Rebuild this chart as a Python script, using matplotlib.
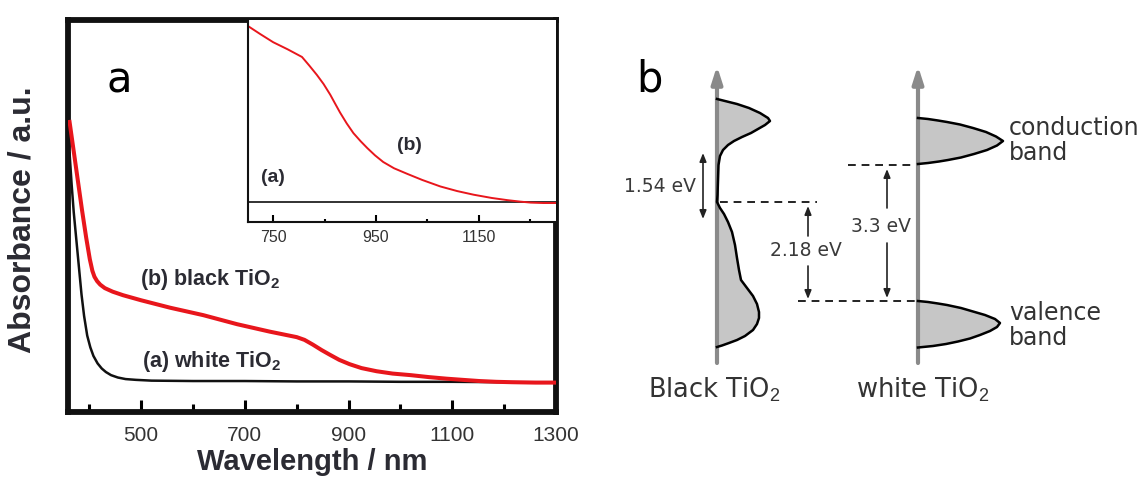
import numpy as np
import matplotlib
matplotlib.use("Agg")
from matplotlib import pyplot as plt

plt.rcParams['mathtext.fontset'] = 'custom'
plt.rcParams['mathtext.rm'] = 'Liberation Sans'
plt.rcParams['mathtext.bf'] = 'Liberation Sans:bold'

# ---- panel a: absorbance spectra (arbitrary units) ----
white_wl = [362, 366, 370, 375, 380, 385, 390, 396, 402, 408, 416, 424, 432, 442,
            455, 470, 490, 520, 600, 700, 800, 900, 1000, 1100, 1200, 1300]
white_abs = [0.66, 0.58, 0.51, 0.44, 0.37, 0.30, 0.245, 0.195, 0.165, 0.143, 0.124,
             0.111, 0.102, 0.094, 0.088, 0.084, 0.082, 0.080, 0.079, 0.079, 0.078,
             0.078, 0.077, 0.077, 0.076, 0.076]

black_wl = [362, 370, 378, 386, 394, 401, 406, 410, 415, 421, 430, 445, 465, 500,
            556, 620, 685, 748, 800, 815, 831, 848, 864, 882, 902, 925, 954, 985,
            1020, 1055, 1089, 1120, 1152, 1185, 1215, 1260, 1300]
black_abs = [0.74, 0.665, 0.59, 0.515, 0.445, 0.39, 0.36, 0.345, 0.334, 0.325, 0.316,
             0.307, 0.298, 0.285, 0.266, 0.247, 0.224, 0.205, 0.191, 0.184, 0.172,
             0.158, 0.146, 0.133, 0.122, 0.112, 0.104, 0.098, 0.094, 0.089, 0.085,
             0.082, 0.079, 0.077, 0.076, 0.075, 0.075]

# inset (zoom of 700-1300 nm)
inset_black_wl = [700, 800, 900, 1000, 1100, 1200, 1300]
inset_black_abs = [0.10, 0.10, 0.10, 0.10, 0.10, 0.10, 0.10]
inset_red_wl = [701, 725, 750, 778, 806, 820, 835, 848, 861, 870, 880, 893, 906, 920,
                933, 948, 964, 985, 1011, 1040, 1075, 1108, 1140, 1175, 1206, 1230,
                1251, 1275, 1300]
inset_red_abs = [0.97, 0.93, 0.89, 0.855, 0.817, 0.775, 0.728, 0.683, 0.630, 0.588,
                 0.542, 0.488, 0.44, 0.40, 0.366, 0.33, 0.297, 0.266, 0.238, 0.208,
                 0.176, 0.153, 0.135, 0.119, 0.108, 0.101, 0.096, 0.094, 0.094]

main_major = [500, 700, 900, 1100, 1300]
main_minor = [400, 600, 800, 1000, 1200]
inset_major = [750, 950, 1150]
inset_minor = [850, 1050, 1250]

# ---- panel b: density-of-states sketch (pixel-like schematic units) ----
bk_y = [99, 101, 104, 108, 113, 118, 121, 125, 129, 133, 137, 141, 145, 150, 156, 165,
        180, 195, 202, 208, 214, 222, 232, 245, 258, 270, 280, 288, 296, 304, 312, 318,
        324, 330, 336, 340, 343, 345.5, 347]
bk_w = [0, 8, 20, 32, 43, 51, 53, 48, 41, 34, 25, 17, 11, 6, 3, 1.5,
        1, 0.5, 0, 3, 7, 11, 15, 18, 20, 22, 24, 30, 36, 40, 42, 42,
        40, 36, 28, 20, 12, 5, 0]
cb_y = [118, 119, 120.5, 122, 124.5, 128, 132, 136.5, 141, 145.5, 150, 154, 157.5,
        160, 161.5, 163, 164]
cb_w = [0, 10, 20, 29, 42, 55, 68, 78, 85, 79, 69, 56, 43, 30, 21, 10, 0]
vb_y = [301, 302, 303.5, 305, 308, 311.5, 315, 319, 323, 327, 331, 335, 338.5,
        341.5, 344, 346, 347.5]
vb_w = [0, 10, 20, 29, 43, 55, 67, 77, 82, 79, 72, 62, 52, 40, 28, 15, 0]

RED = '#e8161c'
TXT = '#2b2b33'

fig = plt.figure(figsize=(11.47, 4.82), dpi=100)

# main axes
ax = fig.add_axes([67.5 / 1147, 1 - 412 / 482, 488.5 / 1147, 392 / 482])
ax.plot(white_wl, white_abs, color='#111111', lw=1.8, zorder=3)
ax.plot(black_wl, black_abs, color=RED, lw=2.9, zorder=4)
ax.set_xlim(358, 1300)
ax.set_ylim(0, 1)
ax.set_yticks([])
ax.set_xticks(main_major)
ax.set_xticks(main_minor, minor=True)
ax.tick_params(axis='x', which='major', direction='in', length=9, width=2.2,
               pad=10, labelsize=15, labelcolor='#333333')
ax.tick_params(axis='x', which='minor', direction='in', length=5.5, width=2.2)
for lab in ax.get_xticklabels():
    lab.set_family('Liberation Sans')
for s in ax.spines.values():
    s.set_linewidth(4.2)
    s.set_color('#111111')
ax.set_xlabel('Wavelength / nm', fontsize=21, fontweight='bold',
              family='Liberation Sans', color=TXT, labelpad=2)
ax.set_ylabel('Absorbance / a.u.', fontsize=23, fontweight='bold',
              family='Liberation Sans', color=TXT)
ax.yaxis.set_label_coords(-0.061, 0.49)

ax.text(0.105, 0.845, 'a', transform=ax.transAxes, fontsize=30,
        family='DejaVu Sans', ha='center', va='center')
ax.text(0.149, 0.337, r'(b) black TiO$_\mathbf{2}$', transform=ax.transAxes,
        fontsize=15.5, fontweight='bold', family='Liberation Sans', color=TXT,
        ha='left', va='center')
ax.text(0.153, 0.128, r'(a) white TiO$_\mathbf{2}$', transform=ax.transAxes,
        fontsize=15.5, fontweight='bold', family='Liberation Sans', color=TXT,
        ha='left', va='center')

# inset
axi = fig.add_axes([248 / 1147, 1 - 222 / 482, 308 / 1147, 202 / 482])
axi.plot(inset_black_wl, inset_black_abs, color='#222222', lw=1.3)
axi.plot(inset_red_wl, inset_red_abs, color=RED, lw=1.4)
axi.set_xlim(701, 1300)
axi.set_ylim(0, 1)
axi.set_yticks([])
axi.set_xticks(inset_major)
axi.set_xticks(inset_minor, minor=True)
axi.tick_params(axis='x', which='major', direction='in', length=5, width=1.5,
                pad=6, labelsize=11.5, labelcolor='#333333')
axi.tick_params(axis='x', which='minor', direction='in', length=2.5, width=1.5)
for lab in axi.get_xticklabels():
    lab.set_family('Liberation Sans')
axi.spines['top'].set_visible(False)
axi.spines['right'].set_visible(False)
axi.spines['left'].set_linewidth(1.5)
axi.spines['bottom'].set_linewidth(1.5)
axi.spines['left'].set_color('#111111')
axi.spines['bottom'].set_color('#111111')
axi.text(0.08, 0.22, '(a)', transform=axi.transAxes, fontsize=14,
         fontweight='bold', family='Liberation Sans', color=TXT,
         ha='center', va='center')
axi.text(0.525, 0.38, '(b)', transform=axi.transAxes, fontsize=14,
         fontweight='bold', family='Liberation Sans', color=TXT,
         ha='center', va='center')

# panel b
axb = fig.add_axes([600 / 1147, 0, 547 / 1147, 1])
axb.set_xlim(600, 1147)
axb.set_ylim(482, 0)
axb.axis('off')

BX, WX = 717, 918
GRAY = '#8a8a8a'
FILL = '#c6c6c6'
for x0 in (BX, WX):
    axb.annotate('', xy=(x0, 66), xytext=(x0, 363),
                 arrowprops=dict(arrowstyle='-|>,head_length=1.0,head_width=0.32',
                                 color=GRAY, lw=3, shrinkA=0, shrinkB=0))

bx = BX + np.array(bk_w)
axb.fill_betweenx(bk_y, BX, bx, color=FILL, lw=0, zorder=2)
axb.plot(bx, bk_y, color='black', lw=1.8, zorder=3)
cx = WX + np.array(cb_w)
axb.fill_betweenx(cb_y, WX, cx, color=FILL, lw=0, zorder=2)
axb.plot(cx, cb_y, color='black', lw=1.8, zorder=3)
vx = WX + np.array(vb_w)
axb.fill_betweenx(vb_y, WX, vx, color=FILL, lw=0, zorder=2)
axb.plot(vx, vb_y, color='black', lw=1.8, zorder=3)

dash = dict(color='#222222', lw=1.4, linestyle=(0, (4, 3)))
axb.plot([720, 817], [202, 202], **dash)
axb.plot([848, 916], [165, 165], **dash)
axb.plot([798, 916], [301, 301], **dash)

arr = dict(arrowstyle='-|>,head_length=0.5,head_width=0.2', color='#222222',
           lw=1.2, shrinkA=0, shrinkB=0)
axb.annotate('', xy=(703, 153), xytext=(703, 219),
             arrowprops=dict(arr, arrowstyle='<|-|>,head_length=0.5,head_width=0.2'))
axb.annotate('', xy=(808, 206), xytext=(808, 236), arrowprops=arr)
axb.annotate('', xy=(808, 299), xytext=(808, 266), arrowprops=arr)
axb.annotate('', xy=(887, 169), xytext=(887, 208), arrowprops=arr)
axb.annotate('', xy=(887, 298), xytext=(887, 243), arrowprops=arr)

small = dict(fontsize=13.5, family='DejaVu Sans', color='#3a3a3a',
             ha='center', va='center')
axb.text(660, 187, '1.54 eV', **small)
axb.text(806, 250, '2.18 eV', **small)
axb.text(881, 226, '3.3 eV', **small)

big = dict(fontsize=17, family='DejaVu Sans', color='#333333', va='center')
axb.text(1009, 128, 'conduction', ha='left', **big)
axb.text(1009, 153, 'band', ha='left', **big)
axb.text(1009, 313, 'valence', ha='left', **big)
axb.text(1009, 338, 'band', ha='left', **big)
low = dict(big, fontsize=18.5)
axb.text(714, 390, r'Black TiO$_2$', ha='center', **low)
axb.text(923, 390, r'white TiO$_2$', ha='center', **low)
axb.text(649, 80, 'b', fontsize=30, family='DejaVu Sans', ha='center', va='center')

plt.savefig('out.png', dpi=100)
